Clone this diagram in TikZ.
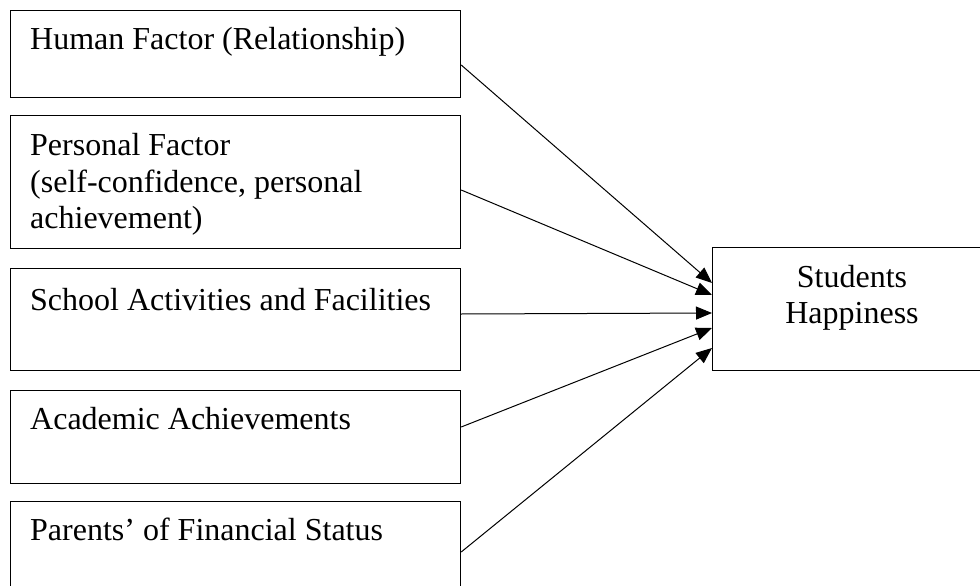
\documentclass[tikz,border=0pt]{standalone}
\usepackage{fontspec}
\setmainfont{Liberation Serif}
\usetikzlibrary{arrows.meta}
\begin{document}
\begin{tikzpicture}[x=1pt,y=-1pt,
  factor/.style={draw, line width=1.2pt, rectangle, inner sep=0pt, anchor=north west, minimum width=450pt},
  outcome/.style={draw, line width=1.2pt, rectangle, inner sep=0pt, anchor=north west, minimum width=280pt, minimum height=123pt},
  caption/.style={anchor=base west, inner sep=0pt, font=\fontsize{32}{36.7}\selectfont},
  ccaption/.style={anchor=base, inner sep=0pt, font=\fontsize{32}{36.7}\selectfont},
  link/.style={line width=1pt, -{Triangle[length=16pt,width=13pt]}}]
\useasboundingbox (0,0) rectangle (980,586);
\clip (0,0) rectangle (980,586);

% factor boxes on the left
\node[factor, minimum height=87pt]  (hf) at (10,10)  {};
\node[factor, minimum height=133pt] (pf) at (10,115) {};
\node[factor, minimum height=102pt] (sa) at (10,268) {};
\node[factor, minimum height=93pt]  (aa) at (10,390) {};
\node[factor, minimum height=93pt]  (ps) at (10,501) {};

% outcome box on the right
\node[outcome] (sh) at (712,247) {};

% box texts
\node[caption] (hft)  at (30,50)  {Human Factor (Relationship)};
\node[caption] (pft1) at (30,155) {Personal Factor};
\node[caption] (pft2) at (30,192) {(self-confidence, personal};
\node[caption] (pft3) at (30,228) {achievement)};
\node[caption] (sat)  at (30,310) {School Activities and Facilities};
\node[caption] (aat)  at (30,429) {Academic Achievements};
\node[caption] (pst)  at (30,540) {Parents’ of Financial Status};
\node[ccaption] (sht1) at (852,287) {Students};
\node[ccaption] (sht2) at (852,323) {Happiness};

% arrows from each factor to the outcome
\draw[link] ([yshift=-55pt]hf.north east)  -- ([yshift=-36pt]sh.north west);
\draw[link] ([yshift=-75pt]pf.north east)  -- ([yshift=-48pt]sh.north west);
\draw[link] ([yshift=-46pt]sa.north east)  -- ([yshift=-66pt]sh.north west);
\draw[link] ([yshift=-37pt]aa.north east)  -- ([yshift=-81pt]sh.north west);
\draw[link] ([yshift=-51pt]ps.north east)  -- ([yshift=-101pt]sh.north west);
\end{tikzpicture}
\end{document}
